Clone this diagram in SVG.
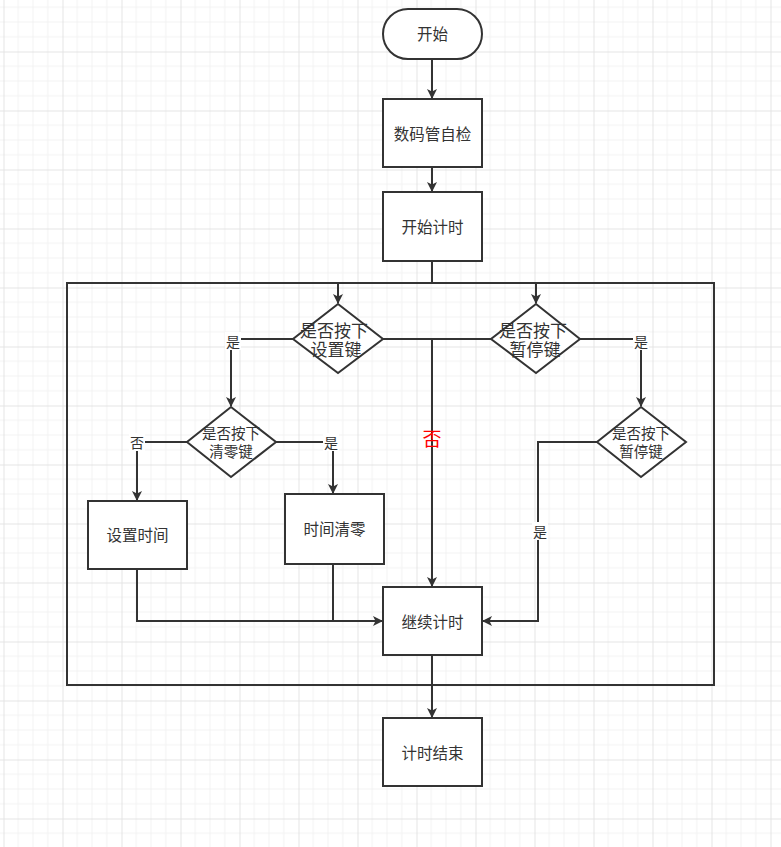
<svg xmlns="http://www.w3.org/2000/svg" width="781" height="847" viewBox="0 0 781 847">
<defs>
<pattern id="grid" patternUnits="userSpaceOnUse" x="3.5" y="-7.5" width="59" height="59">
<path d="M14.75 0V59M29.5 0V59M44.25 0V59M0 14.75H59M0 29.5H59M0 44.25H59" stroke="#f2f2f2" stroke-width="1" fill="none"/>
<path d="M0.5 0V59M0 0.5H59" stroke="#e4e4e4" stroke-width="1" fill="none"/>
</pattern>
<marker id="arr" markerWidth="10" markerHeight="10" refX="9" refY="5" orient="auto" markerUnits="userSpaceOnUse">
<path d="M0 0L10 5L0 10L2.5 5Z" fill="#333"/>
</marker>
</defs>
<style>
.n{fill:#fff;stroke:#333;stroke-width:2}
.t{font-family:"Noto Sans CJK SC","Noto Sans",sans-serif;font-size:15.5px;fill:#333;text-anchor:middle;dominant-baseline:central}
.d1{font-family:"Noto Sans CJK SC","Noto Sans",sans-serif;font-size:17px;fill:#333;text-anchor:middle;dominant-baseline:central}
.d2{font-family:"Noto Sans CJK SC","Noto Sans",sans-serif;font-size:14.5px;fill:#333;text-anchor:middle;dominant-baseline:central}
.l{stroke:#333;stroke-width:2;fill:none}
.lb{font-family:"Noto Sans CJK SC","Noto Sans",sans-serif;font-size:14px;fill:#333;text-anchor:middle;dominant-baseline:central}
</style>
<rect width="781" height="847" fill="#fff"/>
<rect width="781" height="847" fill="url(#grid)"/>
<g id="container"><rect x="67" y="283" width="647" height="402" fill="none" stroke="#333" stroke-width="2"/></g>
<g id="connectors">
<path class="l" d="M432 59V98" marker-end="url(#arr)"/>
<path class="l" d="M432 167V191" marker-end="url(#arr)"/>
<path class="l" d="M432 261V283"/>
<path class="l" d="M338 283V303" marker-end="url(#arr)"/>
<path class="l" d="M536 283V303" marker-end="url(#arr)"/>
<path class="l" d="M383 339H491"/>
<path class="l" d="M432 339V586" marker-end="url(#arr)"/>
<path class="l" d="M293 339H231V406" marker-end="url(#arr)"/>
<path class="l" d="M580 339H641V406" marker-end="url(#arr)"/>
<path class="l" d="M276 442H333V493" marker-end="url(#arr)"/>
<path class="l" d="M187 442H137V500" marker-end="url(#arr)"/>
<path class="l" d="M137 569V621H382" marker-end="url(#arr)"/>
<path class="l" d="M333 564V621"/>
<path class="l" d="M597 442H538V621H483" marker-end="url(#arr)"/>
<path class="l" d="M432 655V717" marker-end="url(#arr)"/>
</g>
<g id="labels">
<rect x="225" y="332" width="16" height="18" fill="#fff"/><text class="lb" x="233" y="341">是</text>
<rect x="633" y="332" width="16" height="18" fill="#fff"/><text class="lb" x="641" y="341">是</text>
<rect x="323" y="433" width="16" height="18" fill="#fff"/><text class="lb" x="331" y="442">是</text>
<rect x="129" y="433" width="16" height="18" fill="#fff"/><text class="lb" x="137" y="442">否</text>
<rect x="532" y="522" width="16" height="18" fill="#fff"/><text class="lb" x="540" y="531">是</text>
<text x="432" y="437" font-family="Noto Sans CJK SC,sans-serif" font-size="19" fill="#ff0000" text-anchor="middle" dominant-baseline="central">否</text>
</g>
<g id="start"><rect class="n" x="383" y="9" width="99" height="50" rx="25"/><text class="t" x="432.5" y="33">开始</text></g>
<g id="selfcheck"><rect class="n" x="383" y="99" width="99" height="68"/><text class="t" x="432.5" y="133">数码管自检</text></g>
<g id="starttimer"><rect class="n" x="383" y="192" width="99" height="69"/><text class="t" x="432.5" y="226">开始计时</text></g>
<g id="d_set"><path class="n" d="M338 304L383 339L338 373L293 339Z"/><text class="d1" x="334" y="329">是否按下</text><text class="d1" x="336" y="348">设置键</text></g>
<g id="d_pause1"><path class="n" d="M536 304L580 339L536 373L491 339Z"/><text class="d1" x="533" y="329">是否按下</text><text class="d1" x="535" y="348">暂停键</text></g>
<g id="d_clear"><path class="n" d="M231 407L276 442L231 477L187 442Z"/><text class="d2" x="231" y="432">是否按下</text><text class="d2" x="231" y="450">清零键</text></g>
<g id="d_pause2"><path class="n" d="M641 407L686 442L641 477L597 442Z"/><text class="d2" x="641" y="432">是否按下</text><text class="d2" x="641" y="450">暂停键</text></g>
<g id="settime"><rect class="n" x="88" y="501" width="99" height="68"/><text class="t" x="137.5" y="534">设置时间</text></g>
<g id="cleartime"><rect class="n" x="285" y="494" width="99" height="70"/><text class="t" x="334.5" y="528">时间清零</text></g>
<g id="continue"><rect class="n" x="383" y="587" width="99" height="68"/><text class="t" x="432.5" y="621">继续计时</text></g>
<g id="end"><rect class="n" x="383" y="718" width="99" height="68"/><text class="t" x="432.5" y="752">计时结束</text></g>
</svg>
